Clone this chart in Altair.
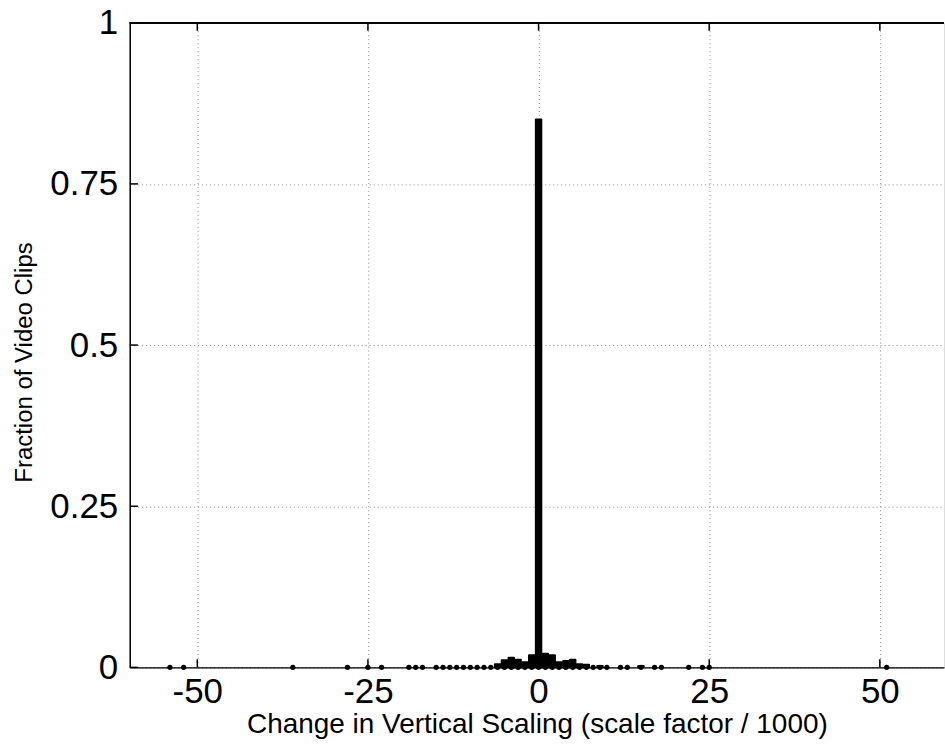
import altair as alt
import pandas as pd

# Histogram bins (change in vertical scaling, scale factor / 1000)
bins = [-54, -52, -36, -28, -25, -23, -19, -18, -17,
        -15, -14, -13, -12, -11, -10, -9, -8, -7,
        -6, -5, -4, -3, -2, -1, 0, 1, 2, 3, 4, 5, 6, 7,
        8, 9, 10, 12, 13, 15, 17, 18, 22, 24, 25, 51]
# Fraction of video clips in each bin
fractions = [0.0005, 0.0005, 0.0005, 0.0005, 0.0005, 0.0005, 0.0005, 0.0005, 0.0005,
             0.0005, 0.0005, 0.0005, 0.0005, 0.0005, 0.0005, 0.0005, 0.0005, 0.0005,
             0.005, 0.011, 0.015, 0.012, 0.008, 0.019, 0.85, 0.021, 0.019, 0.008, 0.010, 0.012, 0.005, 0.004,
             0.0005, 0.002, 0.0005, 0.0005, 0.0005, 0.002, 0.0005, 0.0005, 0.0005, 0.0005, 0.0005, 0.0005]

x_ticks = [-50, -25, 0, 25, 50]
y_ticks = [0, 0.25, 0.5, 0.75, 1]
x_domain = [-59.9, 59.4]
y_domain = [0, 1]

FONT = "Liberation Sans"

df = pd.DataFrame({"x": bins, "y": fractions})
xt = pd.DataFrame({"v": x_ticks})
yt = pd.DataFrame({"v": y_ticks})

xscale = alt.Scale(domain=x_domain, nice=False, zero=False)
yscale = alt.Scale(domain=y_domain, nice=False)

xaxis = alt.Axis(values=x_ticks, tickSize=0, labelExpr="'' + datum.value",
                 labelFontSize=35, labelPadding=7, labelFont=FONT, labelColor="black",
                 title="Change in Vertical Scaling (scale factor / 1000)",
                 titleFont=FONT, titleFontSize=28, titleFontWeight="normal",
                 titleColor="black", titlePadding=1,
                 domainColor="black", domainWidth=1.5,
                 grid=True, gridColor="#888888", gridDash=[1, 3], gridWidth=1)
yaxis = alt.Axis(values=y_ticks, tickSize=0, labelExpr="'' + datum.value",
                 labelFontSize=35, labelPadding=12, labelFont=FONT, labelColor="black",
                 title="Fraction of Video Clips",
                 titleFont=FONT, titleFontSize=24, titleFontWeight="normal",
                 titleColor="black", titlePadding=13, titleY=340,
                 domainColor="black", domainWidth=1.5,
                 grid=True, gridColor="#888888", gridDash=[1, 3], gridWidth=1)

base = alt.Chart(df)

bars = base.mark_bar(color="black", stroke="black", strokeWidth=2, strokeJoin="round").transform_filter(
    "datum.y > 0.001"
).transform_calculate(x0="datum.x - 0.4", x1="datum.x + 0.4").encode(
    x=alt.X("x0:Q", scale=xscale, axis=xaxis),
    x2="x1:Q",
    y=alt.Y("y:Q", scale=yscale, axis=yaxis),
    y2=alt.datum(0),
)

dots = base.mark_circle(color="black", size=28, opacity=1).encode(
    x=alt.X("x:Q", scale=xscale),
    y=alt.datum(0),
)

tick_b = alt.Chart(xt).mark_rule(color="black", strokeWidth=1.5).encode(
    x=alt.X("v:Q", scale=xscale), y=alt.datum(0), y2=alt.datum(0.0125))
tick_t = alt.Chart(xt).mark_rule(color="black", strokeWidth=1.5).encode(
    x=alt.X("v:Q", scale=xscale), y=alt.datum(1), y2=alt.datum(0.9875))
tick_l = alt.Chart(yt).mark_rule(color="black", strokeWidth=1.5).encode(
    y=alt.Y("v:Q", scale=yscale), x=alt.datum(x_domain[0]), x2=alt.datum(x_domain[0] + 1.2))
top_border = alt.Chart(xt).mark_rule(color="black", strokeWidth=1.5).encode(
    x=alt.datum(x_domain[0]), x2=alt.datum(x_domain[1]), y=alt.datum(1))

chart = alt.layer(bars, dots, tick_b, tick_t, tick_l, top_border).properties(
    width=816, height=646,
    padding={"left": 12, "top": 5, "right": 0, "bottom": 5},
).configure_view(stroke=None).configure(background="white")

chart.save("out.html", embed_options={"renderer": "svg", "actions": False})
